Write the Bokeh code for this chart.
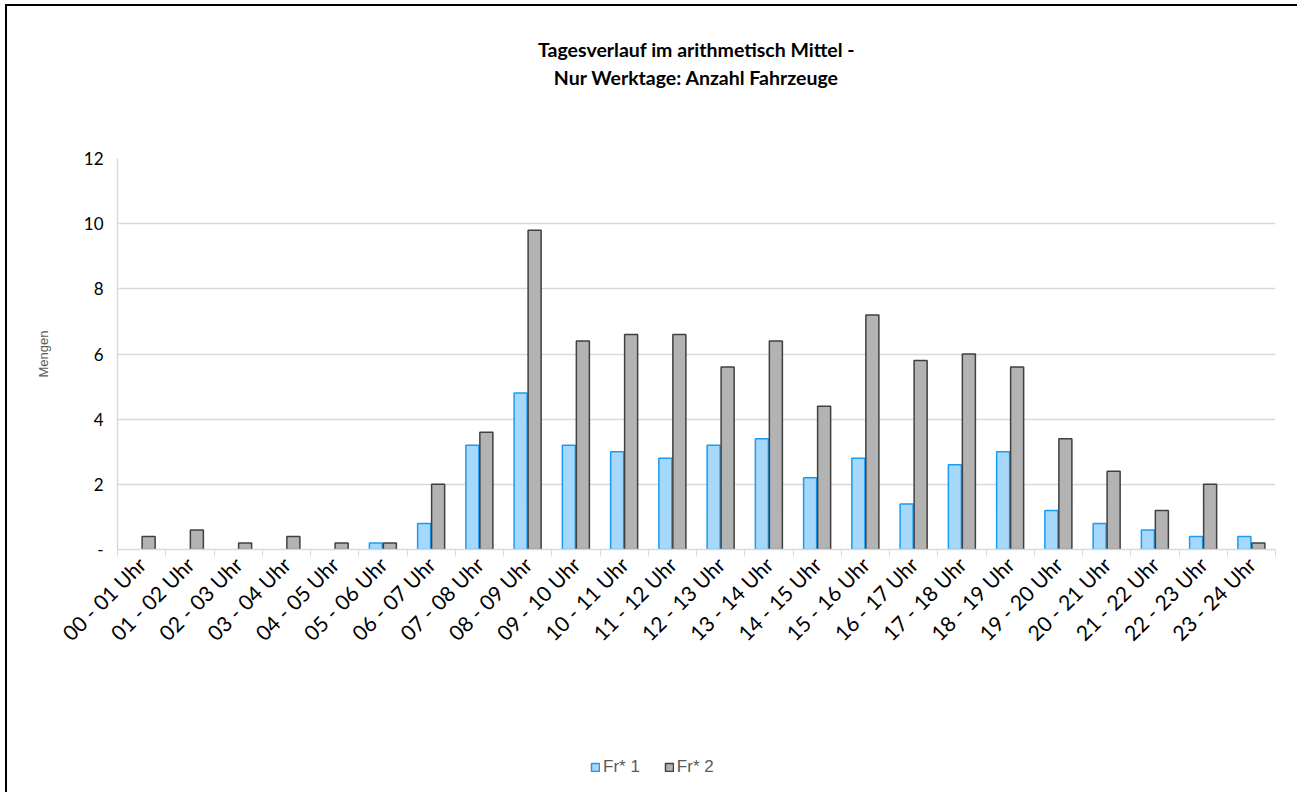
import numpy as np
from bokeh.plotting import figure
from bokeh.layouts import column
from bokeh.models import (ColumnDataSource, Range1d, FixedTicker, Title, Legend,
                          LegendItem, CDSView, BooleanFilter)
from bokeh.transform import dodge
from bokeh.embed import file_html
from bokeh.resources import INLINE

categories = ["00 - 01 Uhr", "01 - 02 Uhr", "02 - 03 Uhr", "03 - 04 Uhr", "04 - 05 Uhr",
              "05 - 06 Uhr", "06 - 07 Uhr", "07 - 08 Uhr", "08 - 09 Uhr", "09 - 10 Uhr",
              "10 - 11 Uhr", "11 - 12 Uhr", "12 - 13 Uhr", "13 - 14 Uhr", "14 - 15 Uhr",
              "15 - 16 Uhr", "16 - 17 Uhr", "17 - 18 Uhr", "18 - 19 Uhr", "19 - 20 Uhr",
              "20 - 21 Uhr", "21 - 22 Uhr", "22 - 23 Uhr", "23 - 24 Uhr"]
fr1 = [0, 0, 0, 0, 0, 0.2, 0.8, 3.2, 4.8, 3.2, 3.0, 2.8, 3.2, 3.4, 2.2, 2.8, 1.4, 2.6,
       3.0, 1.2, 0.8, 0.6, 0.4, 0.4]
fr2 = [0.4, 0.6, 0.2, 0.4, 0.2, 0.2, 2.0, 3.6, 9.8, 6.4, 6.6, 6.6, 5.6, 6.4, 4.4, 7.2,
       5.8, 6.0, 5.6, 3.4, 2.4, 1.2, 2.0, 0.2]
series_names = ["Fr* 1", "Fr* 2"]
y_ticks = [0, 2, 4, 6, 8, 10, 12]
y_tick_labels = ["-", "2", "4", "6", "8", "10", "12"]
title_lines = ["Tagesverlauf im arithmetisch Mittel -", "Nur Werktage: Anzahl Fahrzeuge"]

colors_fill = ["#a6d8fb", "#b3b3b3"]
colors_line = ["#1a9cf5", "#404040"]

n = len(categories)
xs = np.arange(n) + 0.5
src = ColumnDataSource(dict(x=xs, fr1=fr1, fr2=fr2, cat=categories))
view1 = CDSView(filter=BooleanFilter([v > 0 for v in fr1]))
view2 = CDSView(filter=BooleanFilter([v > 0 for v in fr2]))

W, H1, H2 = 1290, 700, 86
p = figure(width=W, height=H1, output_backend="svg", toolbar_location=None,
           x_range=Range1d(0, n), y_range=Range1d(0, 12),
           min_border_left=110, min_border_right=22, min_border_top=152,
           min_border_bottom=157)
p.outline_line_color = None

# titles (spacer first -> closest to frame)
p.add_layout(Title(text=" ", text_font_size="50px"), "above")
p.add_layout(Title(text=title_lines[1], align="center", text_font="Lato", standoff=3,
                   text_font_size="19.5px", text_font_style="bold", text_color="#000000"), "above")
p.add_layout(Title(text=title_lines[0], align="center", text_font="Lato", standoff=3,
                   text_font_size="19.5px", text_font_style="bold", text_color="#000000"), "above")

bw = 0.29
p.vbar(x=dodge("x", -bw / 2, range=p.x_range), top="fr1", width=bw - 0.02, source=src,
       view=view1, fill_color=colors_fill[0], line_color=colors_line[0], line_width=1.5)
p.vbar(x=dodge("x", bw / 2, range=p.x_range), top="fr2", width=bw - 0.02, source=src,
       view=view2, fill_color=colors_fill[1], line_color=colors_line[1], line_width=1.5)

# x axis
p.xaxis.ticker = FixedTicker(ticks=list(xs), minor_ticks=list(range(n + 1)))
p.xaxis.major_label_overrides = {float(x): c for x, c in zip(xs, categories)}
p.xaxis.major_label_orientation = np.pi / 4
p.xaxis.major_tick_line_color = None
p.xaxis.minor_tick_line_color = "#d9d9d9"
p.xaxis.minor_tick_out = 7
p.xaxis.minor_tick_in = 0
p.xaxis.axis_line_color = "#d9d9d9"
p.xaxis.axis_line_width = 1.5
p.xaxis.major_label_text_font = "Lato"
p.xaxis.major_label_text_font_size = "21px"
p.xaxis.major_label_text_color = "#000000"
p.xaxis.major_label_standoff = 4
p.xgrid.grid_line_color = None

# y axis
p.yaxis.ticker = FixedTicker(ticks=y_ticks)
p.yaxis.major_label_overrides = {t: l for t, l in zip(y_ticks, y_tick_labels)}
p.yaxis.major_tick_line_color = None
p.yaxis.minor_tick_line_color = None
p.yaxis.axis_line_color = "#d9d9d9"
p.yaxis.axis_line_width = 1.5
p.yaxis.major_label_text_font = "Lato"
p.yaxis.major_label_text_font_size = "17px"
p.yaxis.major_label_text_color = "#000000"
p.yaxis.major_label_standoff = 8
p.yaxis.axis_label = "Mengen"
p.yaxis.axis_label_text_font = "Liberation Sans"
p.yaxis.axis_label_text_font_size = "13px"
p.yaxis.axis_label_text_font_style = "normal"
p.yaxis.axis_label_text_color = "#595959"
p.yaxis.axis_label_standoff = 30
p.ygrid.grid_line_color = "#d9d9d9"
p.ygrid.grid_line_width = 1.5

# legend figure (hidden bar renderers; only their legend entries show)
p2 = figure(width=W, height=H2, output_backend="svg", toolbar_location=None,
            x_range=Range1d(1000, 1024), y_range=Range1d(-1000, -999),
            min_border=0, x_axis_location=None, y_axis_location=None)
p2.outline_line_color = None
p2.xgrid.grid_line_color = None
p2.ygrid.grid_line_color = None
g1 = p2.vbar(x="x", top="fr1", width=bw, source=src, fill_color=colors_fill[0],
             line_color=colors_line[0], line_width=1.5)
g2 = p2.vbar(x="x", top="fr2", width=bw, source=src, fill_color=colors_fill[1],
             line_color=colors_line[1], line_width=1.5)
g1.visible = False
g2.visible = False
legend = Legend(items=[LegendItem(label=series_names[0], renderers=[g1]),
                       LegendItem(label=series_names[1], renderers=[g2])],
                orientation="horizontal", location=(473, 15),
                label_text_font="Liberation Sans", label_text_font_size="17px",
                label_text_color="#595959", glyph_width=10, glyph_height=10,
                spacing=24, label_standoff=3, border_line_color=None,
                background_fill_alpha=0, inactive_fill_alpha=0)
p2.add_layout(legend, "center")

layout = column(p, p2, spacing=0)
layout.margin = (4, 0, 0, 5)
layout.styles = {"border-top": "2px solid #000", "border-left": "2px solid #000"}

open("out.html", "w").write(file_html(layout, INLINE))
